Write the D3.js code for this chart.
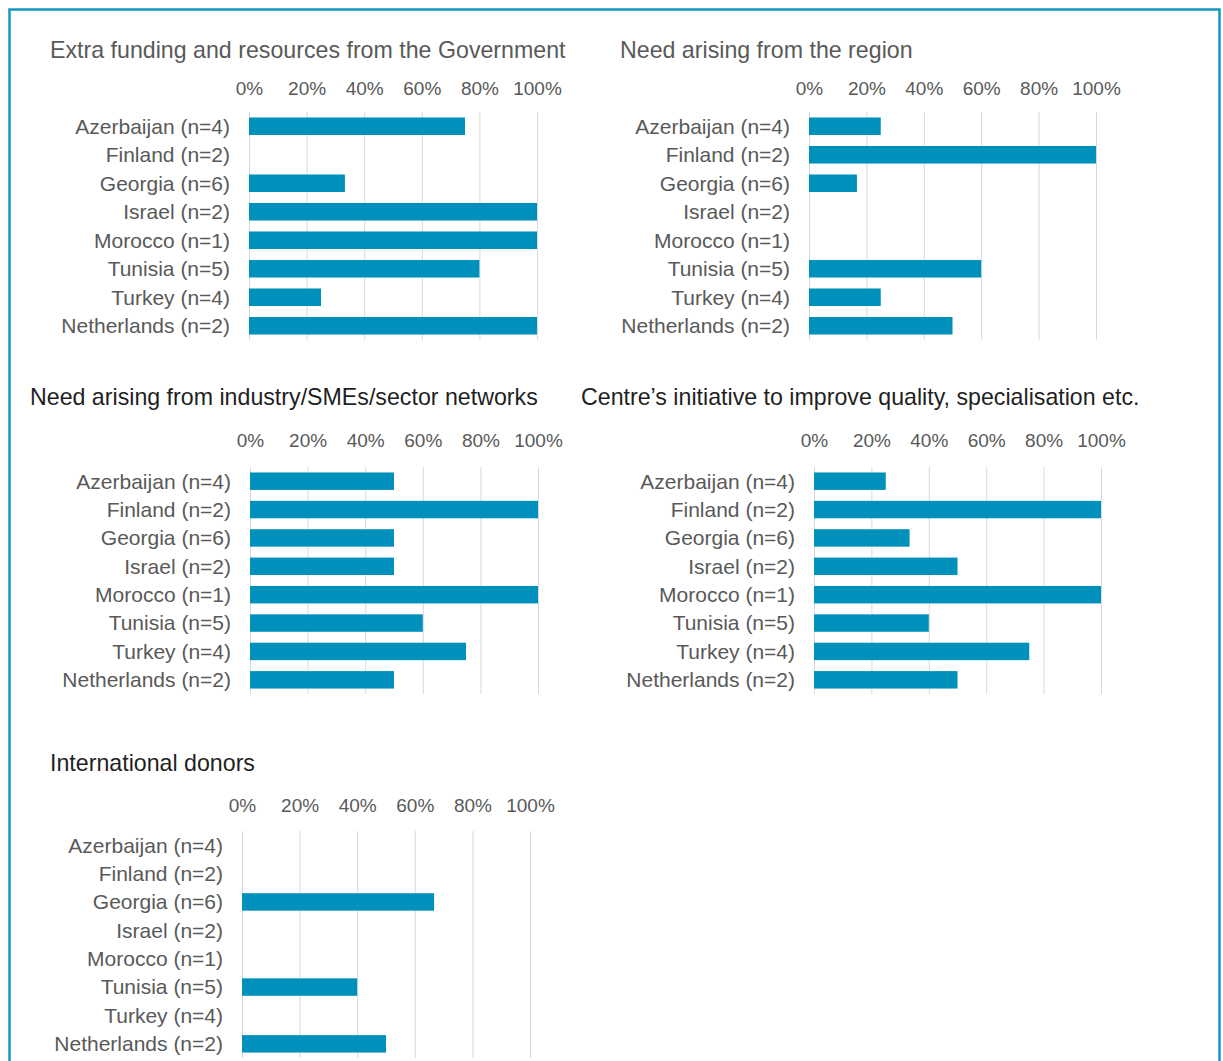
<!DOCTYPE html>
<html>
<head>
<meta charset="utf-8">
<script src="https://cdn.jsdelivr.net/npm/d3@7"></script>
<style>
  html, body { margin: 0; padding: 0; background: #ffffff; }
  svg { display: block; font-family: "Liberation Sans", Arial, sans-serif; }
</style>
</head>
<body>
<svg id="chart" width="1223" height="1061"></svg>
<script>
// ---- Data ----
const categories = [
  "Azerbaijan (n=4)", "Finland (n=2)", "Georgia (n=6)", "Israel (n=2)",
  "Morocco (n=1)", "Tunisia (n=5)", "Turkey (n=4)", "Netherlands (n=2)"
];
const panelTitles = [
  "Extra funding and resources from the Government",
  "Need arising from the region",
  "Need arising from industry/SMEs/sector networks",
  "Centre\u2019s initiative to improve quality, specialisation etc.",
  "International donors"
];
const extraFunding = [75, 0, 33.3, 100, 100, 80, 25, 100];
const regionNeed   = [25, 100, 16.7, 0, 0, 60, 25, 50];
const industryNeed = [50, 100, 50, 50, 100, 60, 75, 50];
const centreInit   = [25, 100, 33.3, 50, 100, 40, 75, 50];
const intlDonors   = [0, 0, 66.7, 0, 0, 40, 0, 50];
const tickValues = [0, 20, 40, 60, 80, 100];

const seriesList = [extraFunding, regionNeed, industryNeed, centreInit, intlDonors];

// ---- Layout (positions / styles) ----
const layouts = [
  { x0: 249, x1: 537, yTop: 112, yBot: 340, titleX: 50,  titleY: 58,  tickY: 95,  titleColor: "#595959" },
  { x0: 809, x1: 1096, yTop: 112, yBot: 340, titleX: 620, titleY: 58,  tickY: 95,  titleColor: "#595959" },
  { x0: 250, x1: 538, yTop: 467, yBot: 694, titleX: 30,  titleY: 405, tickY: 447, titleColor: "#1f1f1f" },
  { x0: 814, x1: 1101, yTop: 467, yBot: 694, titleX: 581, titleY: 405, tickY: 447, titleColor: "#1f1f1f" },
  { x0: 242, x1: 530, yTop: 831, yBot: 1058, titleX: 50, titleY: 771, tickY: 812, titleColor: "#1f1f1f" }
];

const barColor = "#0090bc";
const gridColor = "#d9d9d9";
const textColor = "#595959";

const svg = d3.select("#chart");

// frame
svg.append("rect")
  .attr("x", 9.5).attr("y", 9.5)
  .attr("width", 1210).attr("height", 1100)
  .attr("fill", "none")
  .attr("stroke", "#1497c2")
  .attr("stroke-width", 2.5);

seriesList.forEach((values, i) => {
  const L = layouts[i];
  const g = svg.append("g");
  const x = d3.scaleLinear().domain([0, 100]).range([L.x0, L.x1]);
  const y = d3.scaleBand().domain(categories).range([L.yTop, L.yBot])
    .paddingInner(0.385).paddingOuter(0.1925);

  // title
  g.append("text")
    .attr("x", L.titleX).attr("y", L.titleY)
    .attr("fill", L.titleColor)
    .style("font-size", "23.2px")
    .text(panelTitles[i]);

  // gridlines
  g.selectAll("line.grid").data(tickValues).enter().append("line")
    .attr("class", "grid")
    .attr("x1", d => x(d) + 0.5).attr("x2", d => x(d) + 0.5)
    .attr("y1", L.yTop).attr("y2", L.yBot)
    .attr("stroke", gridColor).attr("stroke-width", 1);

  // top axis tick labels
  const axis = d3.axisTop(x).tickValues(tickValues).tickFormat(d => d + "%").tickSize(0).tickPadding(0);
  const ax = g.append("g").attr("transform", `translate(0,${L.tickY})`).call(axis);
  ax.select(".domain").remove();
  ax.selectAll("text")
    .attr("fill", textColor)
    .attr("dy", 0)
    .style("font-size", "19px")
    .style("font-family", "'Liberation Sans', Arial, sans-serif");

  // category axis
  const yAxis = d3.axisLeft(y).tickSize(0).tickPadding(0);
  const ay = g.append("g").attr("transform", `translate(${L.x0 - 19},0)`).call(yAxis);
  ay.select(".domain").remove();
  ay.selectAll("text")
    .attr("fill", textColor)
    .attr("dy", "0.35em")
    .style("font-size", "21px")
    .style("font-family", "'Liberation Sans', Arial, sans-serif");

  // bars
  g.selectAll("rect.bar").data(values.map((v, k) => ({ c: categories[k], v })))
    .enter().append("rect")
    .attr("class", "bar")
    .attr("x", x(0))
    .attr("y", d => y(d.c))
    .attr("width", d => x(d.v) - x(0))
    .attr("height", y.bandwidth())
    .attr("fill", barColor);
});
</script>
</body>
</html>
